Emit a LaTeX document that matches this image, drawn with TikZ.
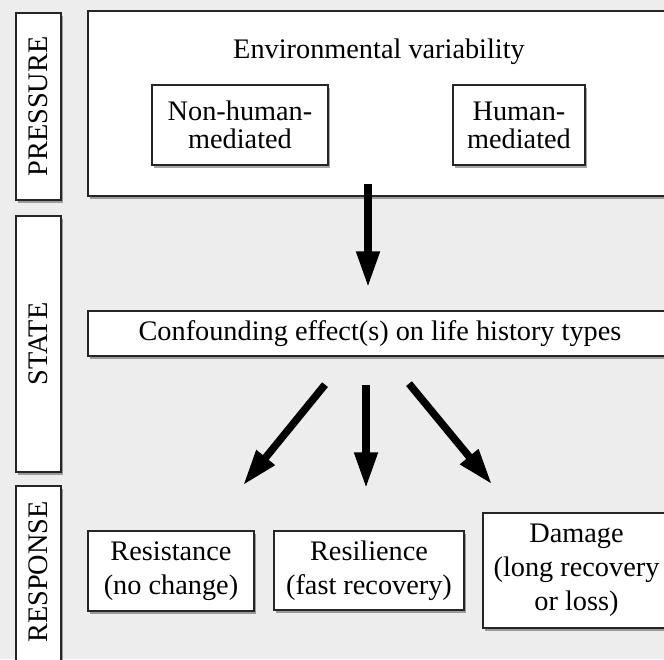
\documentclass[tikz,border=0pt]{standalone}
\usepackage{fontspec}
\setmainfont{Liberation Serif}
\usetikzlibrary{arrows.meta,shadows}
\definecolor{bgcol}{RGB}{237,237,237}
\begin{document}
\begin{tikzpicture}[x=1pt,y=-1pt,
  box/.style={draw=black!85, line width=1.3pt, fill=white, inner sep=0pt, align=center,
    drop shadow={shadow xshift=1.8pt, shadow yshift=-2.6pt, fill=black, opacity=0.35},
    font=\fontsize{28.3pt}{28pt}\selectfont},
  resp/.style={box, font=\fontsize{28.3pt}{34pt}\selectfont},
  txt/.style={inner sep=0pt, align=center, font=\fontsize{28.3pt}{30pt}\selectfont},
  bigarrow/.style={line width=7.5pt, -{Triangle[width=22pt,length=36pt]}}]
\useasboundingbox (0,0) rectangle (664,659);
\fill[bgcol] (0,0) rectangle (664,659);
\clip (0,0) rectangle (664,659);
% side labels
\node[box, minimum width=45pt, minimum height=187pt] (sp) at (38.5,106.5) {};
\node[txt, rotate=90] (tp) at (sp) {PRESSURE};
\node[box, minimum width=45pt, minimum height=256pt] (ss) at (38.5,344) {};
\node[txt, rotate=90] (ts) at (ss) {STATE};
\node[box, minimum width=45pt, minimum height=176pt] (sr) at (38.5,574) {};
\node[txt, rotate=90] (tr) at ([yshift=2pt]sr.center) {RESPONSE};
% pressure
\node[box, minimum width=592pt, minimum height=185pt] (pbox) at (384,103.5) {};
\node[txt] (env) at (379,52) {Environmental variability};
\node[box, minimum width=176pt, minimum height=80pt] (nonh) at (240,125) {Non-human-\\mediated};
\node[box, minimum width=132pt, minimum height=80pt] (hum) at (519,125) {Human-\\mediated};
% state
\node[box, minimum width=592pt, minimum height=45pt] (sbox) at (384,333.5) {};
\node[txt] (conf) at (380,333.5) {Confounding effect(s) on life history types};
% response
\node[resp, minimum width=166pt, minimum height=80pt] (resist) at (171,571) {Resistance\\(no change)};
\node[resp, minimum width=190pt, minimum height=79pt] (resil) at (369,570.5) {Resilience\\(fast recovery)};
\node[resp, minimum width=187pt, minimum height=115pt] (dam) at (576.5,570.5) {Damage\\(long recovery\\or loss)};
% arrows
\draw[bigarrow] ([xshift=-16pt,yshift=13pt]pbox.south) -- ([xshift=-16pt,yshift=23pt]sbox.north);
\draw[bigarrow] ([xshift=-59pt,yshift=-28pt]sbox.south) -- ([xshift=72pt,yshift=45pt]resist.north);
\draw[bigarrow] ([xshift=-18pt,yshift=-28pt]sbox.south) -- ([xshift=-3pt,yshift=42pt]resil.north);
\draw[bigarrow] ([xshift=25pt,yshift=-27pt]sbox.south) -- ([xshift=-84.5pt,yshift=28pt]dam.north);
\end{tikzpicture}
\end{document}
